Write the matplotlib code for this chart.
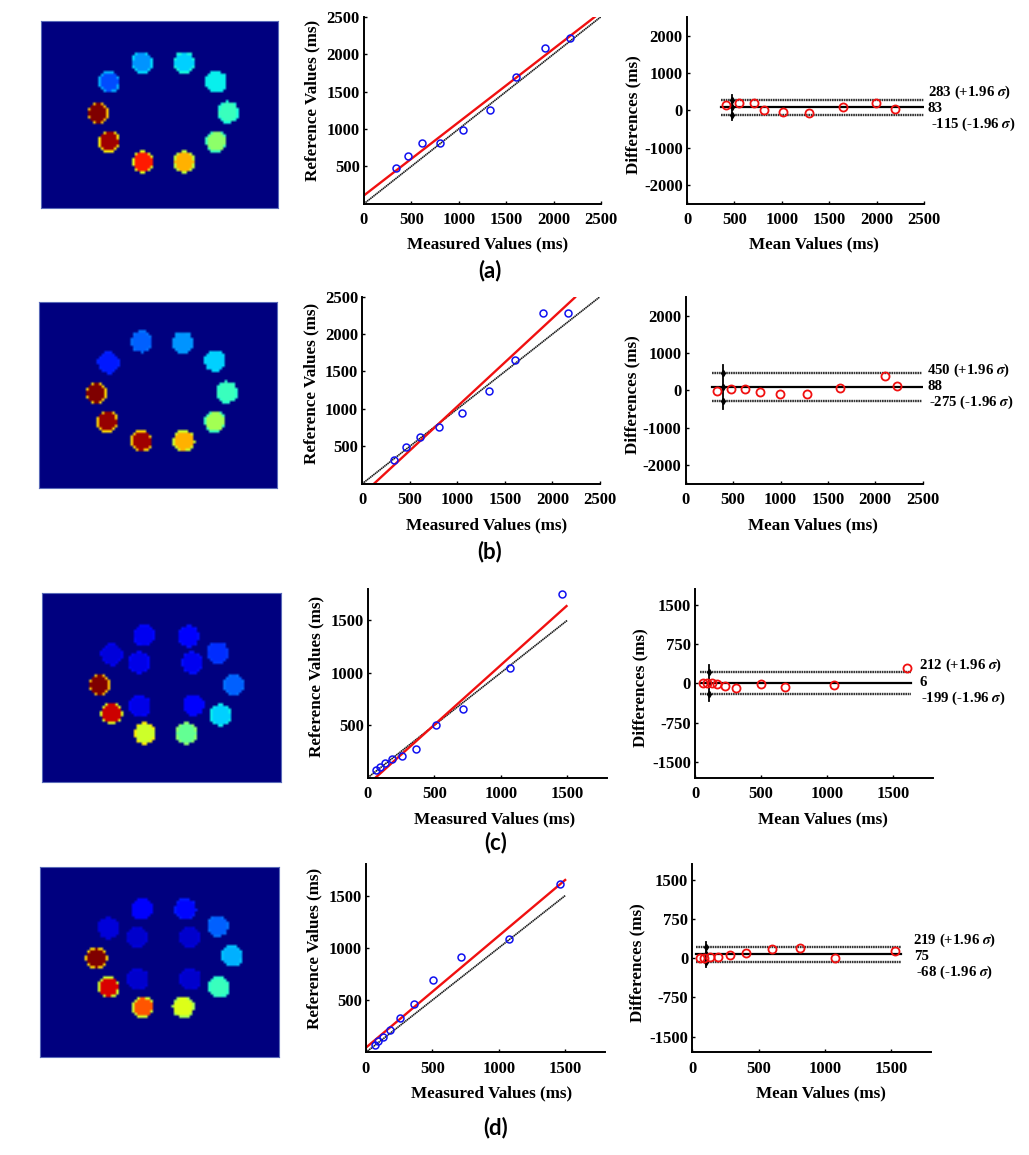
import numpy as np
import matplotlib
matplotlib.use('Agg')
import matplotlib.pyplot as plt

plt.rcParams['font.family'] = ['Liberation Serif', 'DejaVu Serif']
plt.rcParams['font.weight'] = 'bold'
plt.rcParams['mathtext.fontset'] = 'stix'
plt.rcParams['axes.unicode_minus'] = False

W, H = 1029, 1155

# vial centres / levels (jet 0-1), clockwise from top left
a_vial_x = [101, 143, 175, 187, 175, 143, 102, 68, 57, 68]
a_vial_y = [41, 41, 60, 90, 119, 139, 139, 119, 91, 60]
a_vial_val = [0.27, 0.33, 0.36, 0.42, 0.52, 0.72, 0.88, 0.97, 1.0, 0.20]
a_vial_rim = [0.34, 0.38, 0.36, 0.38, 0.42, 0.58, 0.62, 0.66, 0.70, 0.30]

b_vial_x = [102, 143, 175, 187, 175, 144, 102, 68, 57, 69]
b_vial_y = [40, 41, 59, 90, 119, 138, 138, 119, 91, 61]
b_vial_val = [0.22, 0.27, 0.33, 0.42, 0.55, 0.72, 0.97, 0.98, 1.0, 0.15]
b_vial_rim = [0.24, 0.28, 0.34, 0.40, 0.42, 0.60, 0.68, 0.68, 0.68, 0.16]

c_vial_x = [101, 145, 174, 190, 177, 143, 102, 69, 57, 69, 96, 149, 150, 97]
c_vial_y = [42, 43, 59, 91, 121, 139, 139, 119, 91, 61, 69, 69, 111, 112]
c_vial_val = [0.10, 0.11, 0.17, 0.22, 0.33, 0.47, 0.60, 0.93, 1.0, 0.08, 0.09, 0.10, 0.11, 0.09]
c_vial_rim = [0.13, 0.14, 0.18, 0.24, 0.36, 0.52, 0.66, 0.62, 0.70, 0.10, 0.13, 0.14, 0.13, 0.12]

d_vial_x = [101, 144, 176, 190, 177, 142, 102, 68, 56, 68, 96, 148, 149, 97]
d_vial_y = [42, 42, 59, 89, 120, 140, 140, 120, 91, 61, 70, 70, 112, 112]
d_vial_val = [0.11, 0.13, 0.22, 0.30, 0.42, 0.62, 0.82, 0.92, 1.0, 0.08, 0.07, 0.07, 0.07, 0.07]
d_vial_rim = [0.11, 0.15, 0.24, 0.32, 0.40, 0.55, 0.60, 0.60, 0.68, 0.08, 0.08, 0.08, 0.08, 0.08]

# regression panels
a_measured = [338, 461, 608, 802, 1044, 1333, 1603, 1906, 2176]
a_reference = [481, 637, 815, 815, 985, 1248, 1689, 2086, 2210]
a_fit_x = [0, 2437]
a_fit_y = [111, 2500]

b_measured = [337, 459, 610, 803, 1045, 1329, 1602, 1900, 2167]
b_reference = [316, 490, 628, 753, 940, 1234, 1658, 2286, 2286]
b_fit_x = [123, 2237]
b_fit_y = [0, 2491]

c_measured = [62, 90, 128, 180, 258, 360, 510, 715, 1072, 1462]
c_reference = [73, 105, 134, 172, 201, 274, 503, 650, 1042, 1755]
c_fit_x = [58, 1495]
c_fit_y = [0, 1637]

d_measured = [65, 93, 128, 183, 253, 358, 508, 716, 1074, 1463]
d_reference = [70, 105, 150, 213, 325, 459, 694, 911, 1083, 1608]
d_fit_x = [0, 1500]
d_fit_y = [45, 1650]

# bland-altman panels
a_mean = [408, 549, 710, 809, 1013, 1290, 1646, 1997, 2191]
a_diff = [143, 188, 206, 9, -54, -80, 89, 188, 45]
a_limits = [283, 83, -115]
a_range = [359, 2500]
a_cross_x = 471
a_cross_y = [-250, 420]

b_mean = [331, 482, 622, 781, 995, 1283, 1631, 2099, 2233]
b_diff = [-18, 45, 27, -45, -98, -89, 63, 385, 125]
b_limits = [450, 88, -275]
b_range = [274, 2490]
b_cross_x = 394
b_cross_y = [-510, 680]

c_mean = [62, 92, 125, 170, 225, 312, 502, 678, 1050, 1602]
c_diff = [6, 13, 6, -6, -57, -83, -6, -64, -38, 294]
c_limits = [212, 6, -199]
c_range = [37, 1635]
c_cross_x = 108
c_cross_y = [-332, 345]

d_mean = [58, 88, 133, 193, 286, 406, 600, 813, 1076, 1530]
d_diff = [6, 6, 19, 32, 70, 108, 185, 198, 6, 147]
d_limits = [219, 75, -68]
d_range = [28, 1575]
d_cross_x = 103
d_cross_y = [-160, 319]


def px_axes(fig, left, top, right, bottom):
    return fig.add_axes([left / W, 1 - bottom / H, (right - left) / W, (bottom - top) / H])


def style_axes(ax, box, xlabel, ylabel, xlab_pos, ylab_pos):
    left, top, right, bottom = box
    for side in ['top', 'right']:
        ax.spines[side].set_visible(False)
    for side in ['left', 'bottom']:
        ax.spines[side].set_linewidth(1.4)
    ax.tick_params(direction='in', length=2.5, width=1.0, labelsize=12)
    ax.tick_params(axis='x', pad=6)
    ax.tick_params(axis='y', pad=3)
    ax.patch.set_alpha(0)
    ax.set_xlabel(xlabel, fontsize=12.3, fontweight='bold')
    ax.set_ylabel(ylabel, fontsize=12.3, fontweight='bold')
    ax.xaxis.set_label_coords((xlab_pos[0] - left) / (right - left), (bottom - xlab_pos[1]) / (bottom - top))
    ax.yaxis.set_label_coords((ylab_pos[0] - left) / (right - left), (bottom - ylab_pos[1]) / (bottom - top))
    ax.xaxis.label.set_verticalalignment('center')
    ax.yaxis.label.set_verticalalignment('center')


def vial_image(fig, box, xs, ys, vals, rims):
    left, top, right, bottom = box
    w, h = right - left, bottom - top
    cell = 2.6
    col = (np.arange(int(w / cell)) + 0.5) * cell
    row = (np.arange(int(h / cell)) + 0.5) * cell
    gx, gy = np.meshgrid(col, row)
    img = np.zeros(gx.shape)
    for x, y, v, r in zip(xs, ys, vals, rims):
        dist = np.hypot(gx - x, gy - y)
        img[dist < 10.8] = r
        img[dist < 9.3] = v
    ax = px_axes(fig, left, top, right, bottom)
    ax.imshow(img, cmap='jet', vmin=0, vmax=1, aspect='auto', interpolation='bilinear',
              extent=(0, w, h, 0))
    ax.set_xticks([])
    ax.set_yticks([])
    for s in ax.spines.values():
        s.set_color('#5a6ab8')
        s.set_linewidth(0.8)


def regression(fig, box, measured, reference, fit_x, fit_y, lim, xticks, yticks, xlab_pos, ylab_pos):
    ax = px_axes(fig, *box)
    ax.plot([0, xticks[-1]], [0, xticks[-1]], color='#1a1a1a', ls=(0, (0.9, 0.3)), lw=1.2)
    ax.plot(fit_x, fit_y, color='#f01010', lw=1.7)
    ax.plot(measured, reference, 'o', mfc='none', mec='#1010f0', mew=1.1, ms=5)
    ax.set_xlim(0, lim)
    ax.set_ylim(0, lim)
    ax.set_xticks(xticks)
    ax.set_yticks(yticks)
    style_axes(ax, box, 'Measured Values (ms)', 'Reference Values (ms)', xlab_pos, ylab_pos)


def agreement(fig, box, mean, diff, limits, line_range, cross_x, cross_y, lim, xticks, yticks,
              xlab_pos, ylab_pos, text_x, text_y):
    ax = px_axes(fig, *box)
    ax.plot(line_range, [limits[0]] * 2, color='#333333', ls=(0, (0.7, 0.3)), lw=1.7)
    ax.plot(line_range, [limits[1]] * 2, color='k', lw=1.6)
    ax.plot(line_range, [limits[2]] * 2, color='#333333', ls=(0, (0.7, 0.3)), lw=1.7)
    ax.plot([cross_x, cross_x], cross_y, color='k', lw=1.3)
    ax.plot([cross_x] * 3, limits, 'kd', ms=3.2)
    ax.plot(mean, diff, 'o', mfc='none', mec='#f01010', mew=1.3, ms=5.8)
    ax.set_xlim(0, lim)
    ax.set_ylim(-lim, lim)
    ax.set_xticks(xticks)
    ax.set_yticks(yticks)
    style_axes(ax, box, 'Mean Values (ms)', 'Differences (ms)', xlab_pos, ylab_pos)
    labels = [f'{limits[0]} (+1.96 $\\mathit{{\\sigma}}$)', f'{limits[1]}',
              f'{limits[2]} (-1.96 $\\mathit{{\\sigma}}$)']
    for lab, tx, ty in zip(labels, text_x, text_y):
        fig.text(tx / W, 1 - ty / H, lab, fontsize=10.7, fontweight='bold', va='center', ha='left')


fig = plt.figure(figsize=(W / 100, H / 100), dpi=100)

long_ticks = [0, 500, 1000, 1500, 2000, 2500]
short_ticks = [0, 500, 1000, 1500]
ref_long = [500, 1000, 1500, 2000, 2500]
ref_short = [500, 1000, 1500]
diff_long = [-2000, -1000, 0, 1000, 2000]
diff_short = [-1500, -750, 0, 750, 1500]

# row a
vial_image(fig, (41, 21, 278, 208), a_vial_x, a_vial_y, a_vial_val, a_vial_rim)
regression(fig, (364, 16.7, 601, 203.7), a_measured, a_reference, a_fit_x, a_fit_y, 2500,
           long_ticks, ref_long, (488, 244), (312, 100))
agreement(fig, (687, 17, 924, 203.7), a_mean, a_diff, a_limits, a_range, a_cross_x, a_cross_y, 2500,
          long_ticks, diff_long, (814, 244), (633, 115), [928, 928, 931], [92, 109, 124])

# row b
vial_image(fig, (39, 302, 277, 488), b_vial_x, b_vial_y, b_vial_val, b_vial_rim)
regression(fig, (362.3, 296.7, 600, 483.7), b_measured, b_reference, b_fit_x, b_fit_y, 2500,
           long_ticks, ref_long, (487, 525), (311, 383))
agreement(fig, (685.7, 297, 922.7, 483.5), b_mean, b_diff, b_limits, b_range, b_cross_x, b_cross_y, 2500,
          long_ticks, diff_long, (813, 525), (632, 395), [927, 927, 929], [370, 386, 402])

# row c
vial_image(fig, (42, 593, 281, 782), c_vial_x, c_vial_y, c_vial_val, c_vial_rim)
regression(fig, (368, 589, 607, 777.5), c_measured, c_reference, c_fit_x, c_fit_y, 1800,
           short_ticks, ref_short, (495, 819), (316, 676))
agreement(fig, (695, 589, 933, 777.5), c_mean, c_diff, c_limits, c_range, c_cross_x, c_cross_y, 1800,
          short_ticks, diff_short, (823, 819), (640, 688), [919, 919, 921], [665, 682, 698])

# row d
vial_image(fig, (40, 867, 279, 1057), d_vial_x, d_vial_y, d_vial_val, d_vial_rim)
regression(fig, (366, 864.3, 605, 1052.3), d_measured, d_reference, d_fit_x, d_fit_y, 1800,
           short_ticks, ref_short, (492, 1093), (314, 948))
agreement(fig, (692.3, 864.3, 931, 1052.3), d_mean, d_diff, d_limits, d_range, d_cross_x, d_cross_y, 1800,
          short_ticks, diff_short, (821, 1093), (637, 963), [913, 914, 916], [940, 956, 972])

for lab, x, y in [('(a)', 490, 271), ('(b)', 490, 552), ('(c)', 496, 843), ('(d)', 496, 1128)]:
    fig.text(x / W, 1 - y / H, lab, family='Lato', fontsize=16, fontweight='bold', ha='center', va='center')

fig.savefig('out.png', dpi=100)
